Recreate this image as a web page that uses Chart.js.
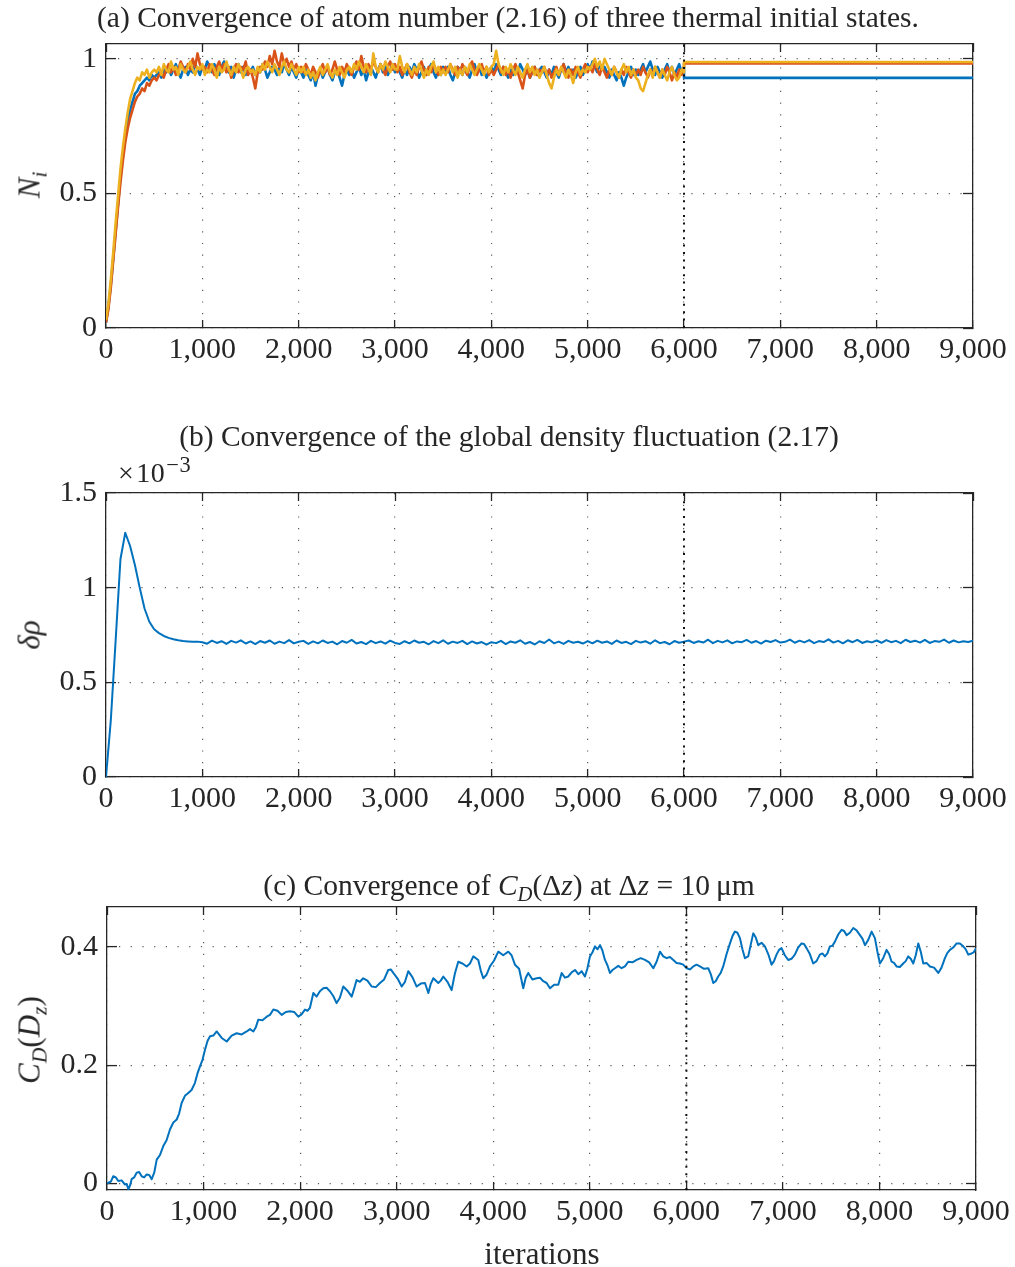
<!DOCTYPE html>
<html>
<head>
<meta charset="utf-8">
<title>Convergence diagnostics</title>
<script src="https://cdn.jsdelivr.net/npm/chart.js@4.4.1/dist/chart.umd.min.js"></script>
<style>
  html, body { margin: 0; padding: 0; background: #fff; }
  #page { position: relative; width: 1015px; height: 1267px; overflow: hidden;
          font-family: "Liberation Serif", "Times New Roman", serif; color: #262626; }
  #page canvas { position: absolute; left: 0; }
  .ttl { position: absolute; white-space: nowrap; transform: translate(-50%, -50%);
         font-size: 29.5px; line-height: 1; }
  .ylab { position: absolute; white-space: nowrap; font-size: 31px; line-height: 1; font-style: italic;
          transform: translate(-50%, -50%) rotate(-90deg); }
  .up { font-style: normal; }
  .exp { position: absolute; white-space: nowrap; font-size: 28px; line-height: 1; letter-spacing: 0.5px; }
  sub { font-size: 70%; vertical-align: baseline; position: relative; top: 0.3em; }
  sup { font-size: 80%; vertical-align: baseline; position: relative; top: -0.45em; margin-left: 1px; }
</style>
</head>
<body>
<div id="page">
  <canvas id="chartN" width="1060" height="380" style="top:0px"></canvas>
  <canvas id="chartRho" width="1060" height="380" style="top:449px"></canvas>
  <canvas id="chartCD" width="1060" height="380" style="top:863px"></canvas>

  <div class="ttl" style="left:508px; top:18px">(a) Convergence of atom number (2.16) of three thermal initial states.</div>
  <div class="ttl" style="left:509px; top:437px">(b) Convergence of the global density fluctuation (2.17)</div>
  <div class="ttl" style="left:509px; top:886px">(c) Convergence of <i>C</i><sub><i>D</i></sub>(Δ<i>z</i>) at Δ<i>z</i> = 10&#8201;μm</div>

  <div class="ylab" style="left:29px; top:185px"><i>N</i><sub><i>i</i></sub></div>
  <div class="ylab" style="left:29px; top:635px">δρ</div>
  <div class="ylab" style="left:29px; top:1040px">C<sub>D</sub><span class="up">(</span>D<sub>z</sub><span class="up">)</span></div>

  <div class="exp" style="left:118px; top:459px">×<span style="margin-left:2px">10</span><sup>−3</sup></div>
  <div class="ttl" style="left:542px; top:1253px; font-size:31px">iterations</div>
</div>

<script>
// ---------- data ----------
const X_MIN = 0;
const X_MAX = 9000;
const X_TICK_STEP = 1000;
const SWITCH_ITER = 6000;          // dotted marker: end of the thermal phase

// (a) atom number N_i, sampled every 25 iterations from 0 to 6000
const N_STEP = 25;
const N_BLUE = [
  0.02,0.08,0.16,0.26,0.36,0.46,0.56,0.64,0.71,0.77,0.81,0.84,0.87,0.88,0.90,0.91,0.92,0.93,0.92,0.94,0.93,
  0.94,0.95,0.93,0.96,0.95,0.97,0.94,0.96,0.98,0.95,0.93,0.96,0.97,0.94,0.96,0.95,0.98,0.96,0.94,0.97,
  0.96,0.99,0.97,0.95,0.98,0.96,0.94,0.97,0.99,0.96,0.95,0.97,0.93,0.96,0.98,0.95,0.97,0.94,0.96,0.95,
  0.97,0.94,0.96,0.95,0.98,0.96,0.93,0.95,0.97,0.96,0.94,0.97,0.95,0.98,0.96,0.94,0.97,0.95,0.93,0.96,
  0.95,0.93,0.96,0.94,0.92,0.95,0.90,0.94,0.96,0.93,0.95,0.97,0.94,0.92,0.95,0.96,0.93,0.90,0.94,0.96,
  0.94,0.96,0.93,0.95,0.97,0.94,0.96,0.92,0.95,0.97,0.95,0.93,0.96,0.98,0.95,0.97,0.94,0.96,0.98,0.95,
  0.97,0.95,0.93,0.96,0.94,0.97,0.95,0.98,0.96,0.93,0.95,0.97,0.94,0.96,0.98,0.95,0.93,0.96,0.94,0.97,
  0.95,0.97,0.94,0.92,0.95,0.97,0.96,0.94,0.97,0.95,0.93,0.96,0.98,0.95,0.97,0.94,0.96,0.93,0.95,0.97,
  0.95,0.98,0.96,0.94,0.97,0.95,0.93,0.96,0.94,0.97,0.95,0.98,0.96,0.94,0.96,0.93,0.95,0.97,0.94,0.96,
  0.97,0.95,0.93,0.96,0.94,0.97,0.95,0.93,0.96,0.98,0.95,0.97,0.94,0.96,0.93,0.95,0.97,0.94,0.96,0.98,
  0.96,0.99,0.97,0.95,0.98,0.96,0.97,0.95,0.93,0.96,0.94,0.92,0.95,0.93,0.90,0.93,0.95,0.97,0.94,0.96,
  0.94,0.96,0.98,0.95,0.97,0.99,0.96,0.94,0.97,0.95,0.93,0.96,0.98,0.95,0.97,0.94,0.96,0.98,0.95,0.97
];
const N_ORANGE = [
  0.02,0.07,0.15,0.25,0.35,0.45,0.54,0.62,0.69,0.74,0.78,0.81,0.84,0.86,0.87,0.89,0.88,0.91,0.90,0.92,0.93,
  0.92,0.94,0.95,0.93,0.96,0.98,0.95,0.97,0.94,0.96,0.99,0.97,0.95,0.98,0.96,1.00,0.97,1.02,0.98,0.96,
  0.97,0.95,0.98,0.96,0.94,0.97,0.99,0.96,0.98,0.95,0.97,0.93,0.96,0.98,0.95,0.97,0.96,0.99,0.94,0.96,
  0.93,0.89,0.95,0.97,0.96,0.99,0.97,1.01,0.98,1.03,0.99,0.97,1.02,0.98,1.00,0.97,0.99,0.96,0.98,0.95,
  0.97,0.95,0.98,0.96,0.94,0.97,0.95,0.93,0.96,0.98,0.95,0.97,0.94,0.96,0.99,0.96,0.94,0.97,0.95,0.98,
  0.96,0.94,0.97,0.99,0.96,1.01,0.97,0.95,0.98,0.96,0.99,0.97,0.95,0.98,0.96,0.94,0.97,0.99,0.96,0.98,
  0.95,0.97,0.94,0.96,0.98,0.95,0.93,0.96,0.94,0.97,0.99,0.96,0.94,0.97,0.95,0.98,0.96,0.94,0.97,0.95,
  0.97,0.95,0.98,0.96,0.94,0.97,0.95,0.98,0.96,0.94,0.97,0.99,0.96,0.94,0.96,0.98,0.95,0.97,0.94,0.96,
  0.94,0.96,0.98,0.95,0.97,0.94,0.96,0.93,0.96,0.98,0.95,0.92,0.89,0.94,0.96,0.93,0.95,0.97,0.94,0.96,
  0.95,0.97,0.94,0.96,0.93,0.95,0.97,0.94,0.96,0.98,0.95,0.93,0.96,0.94,0.97,0.95,0.93,0.96,0.98,0.95,
  0.97,0.95,0.98,0.96,0.94,0.97,0.95,0.93,0.96,0.94,0.97,0.95,0.93,0.96,0.94,0.97,0.95,0.93,0.96,0.94,
  0.96,0.94,0.97,0.95,0.93,0.96,0.94,0.97,0.95,0.93,0.96,0.94,0.97,0.95,0.92,0.95,0.93,0.96,0.94,0.97
];
const N_YELLOW = [
  0.03,0.09,0.18,0.28,0.39,0.49,0.59,0.67,0.74,0.80,0.85,0.88,0.91,0.93,0.92,0.95,0.94,0.96,0.93,0.95,0.96,
  0.95,0.97,0.94,0.98,0.96,0.95,0.99,0.96,0.97,0.94,0.98,0.96,0.95,0.97,0.99,0.96,0.94,0.97,0.96,0.98,
  0.94,0.96,0.95,0.98,0.96,0.93,0.97,0.95,0.96,0.99,0.96,0.94,0.97,0.95,0.98,0.96,0.93,0.96,0.97,0.95,
  0.96,0.94,0.97,0.95,0.98,0.96,0.99,0.97,0.95,0.98,0.96,0.94,0.97,0.99,0.96,0.95,0.98,0.96,0.94,0.97,
  0.95,0.97,0.94,0.96,0.93,0.95,0.92,0.95,0.97,0.94,0.96,0.98,0.95,0.93,0.96,0.94,0.97,0.95,0.93,0.96,
  0.97,0.95,0.98,0.96,0.99,0.97,0.95,0.98,0.96,0.94,1.02,0.97,0.95,0.98,0.96,0.99,0.97,0.95,0.98,0.96,
  0.96,1.01,0.97,0.95,0.98,0.96,0.94,0.97,0.95,0.98,0.96,0.93,0.96,0.94,0.97,0.99,0.95,0.97,0.94,0.96,
  0.94,0.96,0.98,0.95,0.97,0.93,0.96,0.94,0.97,0.95,0.98,0.96,0.94,0.96,0.98,0.96,0.94,0.97,0.95,0.97,
  0.98,1.03,0.98,0.96,0.94,0.97,0.95,0.98,0.96,0.94,0.97,0.95,0.93,0.96,0.98,0.95,0.97,0.94,0.96,0.93,
  0.95,0.97,0.94,0.91,0.89,0.93,0.96,0.94,0.97,0.95,0.93,0.96,0.94,0.91,0.95,0.97,0.94,0.96,0.95,0.97,
  0.96,0.98,1.00,0.97,0.99,0.96,1.00,0.98,0.96,0.94,0.97,0.95,0.93,0.96,0.98,0.95,0.97,0.94,0.96,0.93,
  0.92,0.89,0.88,0.91,0.94,0.96,0.93,0.97,0.95,0.93,0.96,0.94,0.92,0.95,0.97,0.94,0.92,0.93,0.96,0.95
];
// converged values held from iteration 6000 on (blue, orange, yellow)
const N_FINAL = [0.929, 0.983, 0.988];

// (b) global density fluctuation, units of 1e-3, sampled every 50 iterations from 0 to 9000
const RHO_STEP = 50;
const RHO = [
  0.000,0.300,0.720,1.150,1.290,1.220,1.120,1.000,0.890,0.820,0.780,0.760,0.745,0.735,0.728,0.722,0.718,0.716,0.714,0.715,0.712,
  0.704,0.720,0.708,0.717,0.703,0.719,0.710,0.722,0.705,0.716,0.702,0.718,0.709,0.721,0.704,0.715,0.707,0.723,0.706,0.714,
  0.719,0.703,0.716,0.706,0.721,0.708,0.715,0.701,0.718,0.709,0.724,0.705,0.713,0.702,0.719,0.707,0.716,0.704,0.720,0.708,
  0.703,0.717,0.706,0.721,0.709,0.714,0.701,0.718,0.707,0.722,0.704,0.715,0.708,0.719,0.702,0.716,0.705,0.713,0.699,0.712,
  0.707,0.719,0.702,0.716,0.709,0.722,0.704,0.713,0.700,0.717,0.708,0.726,0.706,0.715,0.703,0.719,0.709,0.714,0.705,0.718,
  0.706,0.720,0.709,0.716,0.703,0.721,0.708,0.714,0.702,0.719,0.710,0.717,0.704,0.722,0.707,0.713,0.701,0.718,0.709,0.715,
  0.721,0.708,0.717,0.710,0.725,0.707,0.719,0.711,0.722,0.706,0.716,0.712,0.724,0.709,0.718,0.705,0.720,0.713,0.723,0.710,
  0.714,0.726,0.709,0.720,0.711,0.723,0.707,0.718,0.713,0.727,0.710,0.719,0.706,0.722,0.712,0.724,0.708,0.717,0.711,0.721,
  0.709,0.723,0.712,0.719,0.707,0.725,0.713,0.720,0.710,0.724,0.708,0.718,0.714,0.726,0.709,0.721,0.711,0.717,0.713,0.720
];

// (c) C_D(Δz) at Δz = 10 μm, as [iteration, value]
const CD_POINTS = [
  [0,0.000],[14,0.001],[40,0.003],[65,0.012],[91,0.010],[117,0.004],[151,0.005],[186,-0.002],[204,-0.001],[221,-0.010],
  [238,-0.004],[255,0.007],[281,0.010],[307,0.018],[333,0.019],[359,0.012],[385,0.010],[411,0.015],[437,0.014],[463,0.007],
  [489,0.018],[515,0.040],[549,0.048],[583,0.063],[617,0.073],[652,0.091],[687,0.103],[722,0.108],[747,0.118],[773,0.136],
  [807,0.148],[842,0.153],[876,0.158],[911,0.170],[937,0.186],[963,0.198],[989,0.209],[1015,0.226],[1041,0.241],[1067,0.249],
  [1101,0.250],[1136,0.257],[1188,0.246],[1240,0.240],[1291,0.250],[1343,0.254],[1395,0.252],[1447,0.257],[1481,0.261],[1516,0.257],
  [1541,0.264],[1567,0.277],[1610,0.276],[1654,0.282],[1688,0.285],[1723,0.294],[1766,0.292],[1809,0.285],[1852,0.290],[1895,0.291],
  [1938,0.290],[1981,0.282],[2015,0.286],[2050,0.294],[2076,0.292],[2102,0.297],[2137,0.322],[2171,0.316],[2205,0.325],[2240,0.330],
  [2274,0.331],[2309,0.325],[2343,0.317],[2378,0.305],[2412,0.314],[2447,0.333],[2490,0.326],[2534,0.316],[2559,0.329],[2585,0.344],
  [2619,0.341],[2654,0.347],[2697,0.343],[2741,0.333],[2784,0.332],[2827,0.339],[2870,0.345],[2913,0.361],[2939,0.362],[2965,0.356],
  [3008,0.347],[3052,0.333],[3086,0.341],[3120,0.359],[3163,0.349],[3207,0.333],[3250,0.338],[3293,0.339],[3328,0.322],[3354,0.338],
  [3380,0.347],[3431,0.339],[3457,0.343],[3483,0.350],[3526,0.341],[3569,0.327],[3603,0.355],[3638,0.375],[3681,0.372],[3725,0.367],
  [3759,0.372],[3794,0.384],[3845,0.378],[3871,0.360],[3897,0.347],[3931,0.353],[3966,0.367],[4009,0.377],[4052,0.392],[4104,0.386],
  [4156,0.392],[4190,0.386],[4225,0.370],[4268,0.363],[4311,0.330],[4337,0.348],[4363,0.356],[4406,0.345],[4450,0.347],[4484,0.348],
  [4518,0.342],[4553,0.339],[4588,0.330],[4631,0.336],[4674,0.336],[4709,0.356],[4743,0.348],[4778,0.350],[4812,0.357],[4847,0.361],
  [4881,0.354],[4916,0.359],[4950,0.350],[4976,0.364],[5002,0.384],[5028,0.391],[5054,0.401],[5080,0.396],[5106,0.403],[5131,0.394],
  [5157,0.378],[5183,0.369],[5209,0.356],[5235,0.361],[5261,0.364],[5295,0.368],[5330,0.364],[5364,0.367],[5399,0.375],[5442,0.374],
  [5485,0.378],[5528,0.381],[5572,0.378],[5615,0.374],[5658,0.364],[5692,0.375],[5727,0.392],[5761,0.384],[5796,0.381],[5830,0.383],
  [5865,0.378],[5899,0.373],[5934,0.372],[5968,0.370],[6003,0.364],[6037,0.362],[6072,0.367],[6106,0.370],[6141,0.367],[6184,0.363],
  [6227,0.364],[6253,0.354],[6279,0.339],[6304,0.342],[6330,0.350],[6356,0.356],[6382,0.367],[6417,0.388],[6452,0.406],[6477,0.418],
  [6503,0.426],[6529,0.424],[6555,0.415],[6581,0.396],[6607,0.381],[6641,0.384],[6667,0.404],[6693,0.423],[6719,0.416],[6745,0.403],
  [6779,0.407],[6814,0.401],[6848,0.388],[6883,0.370],[6908,0.376],[6934,0.387],[6960,0.395],[6986,0.398],[7020,0.386],[7055,0.378],
  [7089,0.380],[7124,0.387],[7158,0.399],[7193,0.406],[7219,0.405],[7245,0.398],[7279,0.388],[7314,0.372],[7348,0.376],[7383,0.387],
  [7409,0.389],[7435,0.384],[7461,0.389],[7487,0.401],[7513,0.402],[7539,0.409],[7573,0.421],[7608,0.429],[7634,0.427],[7660,0.420],
  [7694,0.424],[7729,0.432],[7763,0.428],[7798,0.420],[7824,0.414],[7850,0.403],[7884,0.412],[7919,0.426],[7953,0.415],[7979,0.392],
  [8005,0.372],[8039,0.381],[8074,0.395],[8100,0.388],[8126,0.375],[8151,0.373],[8177,0.367],[8211,0.366],[8246,0.372],[8272,0.376],
  [8298,0.384],[8324,0.380],[8350,0.372],[8376,0.386],[8402,0.406],[8428,0.392],[8454,0.372],[8488,0.373],[8523,0.367],[8566,0.365],
  [8609,0.356],[8643,0.365],[8678,0.381],[8704,0.390],[8730,0.395],[8764,0.399],[8799,0.406],[8833,0.406],[8868,0.401],[8894,0.396],
  [8920,0.387],[8954,0.389],[8977,0.391],[9000,0.398]
];

// ---------- drawing ----------
const COLORS = { blue: '#0072BD', orange: '#D95319', yellow: '#EDB120', ink: '#262626' };
const FONT = "'Liberation Serif', 'Times New Roman', serif";

function sampled(step, values) {
  return values.map((v, i) => ({ x: i * step, y: v }));
}
function heldAfterSwitch(step, values, finalValue) {
  const pts = sampled(step, values);
  pts.push({ x: SWITCH_ITER, y: finalValue }, { x: X_MAX, y: finalValue });
  return pts;
}
function switchMarker(yMin, yMax) {
  return {
    data: [{ x: SWITCH_ITER, y: yMin }, { x: SWITCH_ITER, y: yMax }],
    borderColor: '#111', borderWidth: 2, borderDash: [2, 5.4], order: 0
  };
}
const trimNumber = v => String(Math.round(v * 1000) / 1000);

const GRID_DOTS = { color: 'rgba(38,38,38,0.75)', width: 1.2, dash: [1.2, 10.5] };

function panel(canvasId, box, yOpts, datasets) {
  const tickFont = { family: FONT, size: 30 };
  new Chart(document.getElementById(canvasId), {
    type: 'line',
    data: { datasets },
    options: {
      responsive: false, animation: false, devicePixelRatio: 1,
      layout: { padding: 0 },
      plugins: { legend: { display: false }, tooltip: { enabled: false }, title: { display: false } },
      elements: { point: { radius: 0 }, line: { tension: 0, borderJoinStyle: 'round', borderCapStyle: 'butt' } },
      scales: {
        x: {
          type: 'linear', position: 'bottom', min: X_MIN, max: X_MAX,
          ticks: { stepSize: X_TICK_STEP, maxRotation: 0, autoSkip: false, padding: 12,
                   color: COLORS.ink, font: tickFont,
                   callback: v => Number(v).toLocaleString('en-US') },
          grid: { color: GRID_DOTS.color, lineWidth: GRID_DOTS.width, drawTicks: true, tickLength: -8,
                  tickColor: COLORS.ink, tickWidth: 1.3 },
          border: { color: COLORS.ink, width: 1.3, dash: GRID_DOTS.dash },
          afterFit: s => { s.height = box.bottom; }
        },
        xTop: {
          type: 'linear', position: 'top', min: X_MIN, max: X_MAX,
          ticks: { display: false, stepSize: X_TICK_STEP },
          grid: { drawOnChartArea: false, drawTicks: true, tickLength: -8, tickColor: COLORS.ink, tickWidth: 1.3 },
          border: { color: COLORS.ink, width: 1.3 },
          afterFit: s => { s.height = box.top; }
        },
        y: {
          type: 'linear', position: 'left', min: yOpts.min, max: yOpts.max,
          ticks: { stepSize: yOpts.step, includeBounds: false, padding: 19, color: COLORS.ink, font: tickFont,
                   callback: trimNumber },
          grid: { color: GRID_DOTS.color, lineWidth: GRID_DOTS.width, drawTicks: true, tickLength: -10,
                  tickColor: COLORS.ink, tickWidth: 1.3 },
          border: { color: COLORS.ink, width: 1.3, dash: GRID_DOTS.dash },
          afterFit: s => { s.width = box.left; }
        },
        yRight: {
          type: 'linear', position: 'right', min: yOpts.min, max: yOpts.max,
          ticks: { display: false, stepSize: yOpts.step, includeBounds: false },
          grid: { drawOnChartArea: false, drawTicks: true, tickLength: -10, tickColor: COLORS.ink, tickWidth: 1.3 },
          border: { color: COLORS.ink, width: 1.3 },
          afterFit: s => { s.width = box.right; }
        }
      }
    }
  });
}

// (a) atom number
const N_Y = { min: 0, max: 1.055, step: 0.5 };
panel('chartN', { left: 106, right: 87, top: 44, bottom: 52 }, N_Y, [
  switchMarker(N_Y.min, N_Y.max),
  { data: heldAfterSwitch(N_STEP, N_YELLOW, N_FINAL[2]), borderColor: COLORS.yellow, borderWidth: 2.6, order: 1 },
  { data: heldAfterSwitch(N_STEP, N_ORANGE, N_FINAL[1]), borderColor: COLORS.orange, borderWidth: 2.6, order: 2 },
  { data: heldAfterSwitch(N_STEP, N_BLUE, N_FINAL[0]), borderColor: COLORS.blue, borderWidth: 2.6, order: 3 }
]);

// (b) density fluctuation
const RHO_Y = { min: 0, max: 1.5, step: 0.5 };
panel('chartRho', { left: 106, right: 87, top: 44, bottom: 52 }, RHO_Y, [
  switchMarker(RHO_Y.min, RHO_Y.max),
  { data: sampled(RHO_STEP, RHO), borderColor: COLORS.blue, borderWidth: 2, order: 1 }
]);

// (c) correlation at 10 μm
const CD_Y = { min: -0.0113, max: 0.4676, step: 0.2 };
panel('chartCD', { left: 107, right: 84, top: 44, bottom: 53 }, CD_Y, [
  switchMarker(CD_Y.min, CD_Y.max),
  { data: CD_POINTS.map(([it, v]) => ({ x: it, y: v })), borderColor: COLORS.blue, borderWidth: 2, order: 1 }
]);
</script>
</body>
</html>
